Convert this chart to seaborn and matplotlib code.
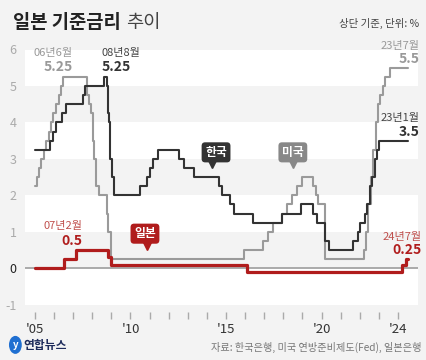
import pandas as pd
import matplotlib.pyplot as plt
import seaborn as sns
from matplotlib.patches import Ellipse

# policy rate changes (date, %), held until next change
kr_dates = ["2005-01-01", "2005-10-11", "2005-12-08", "2006-02-09", "2006-06-08", "2006-08-10",
            "2007-07-12", "2007-08-09", "2008-08-07", "2008-10-09", "2008-10-27", "2008-11-07",
            "2008-12-11", "2009-01-09", "2009-02-12", "2010-07-09", "2010-11-16", "2011-01-13",
            "2011-03-10", "2011-06-10", "2012-07-12", "2012-10-11", "2013-05-09", "2014-08-14",
            "2014-10-15", "2015-03-12", "2015-06-11", "2016-06-09", "2017-11-30", "2018-11-30",
            "2019-07-18", "2019-10-16", "2020-03-17", "2020-05-28", "2021-08-26", "2021-11-25",
            "2022-01-14", "2022-04-14", "2022-05-26", "2022-07-13", "2022-08-25", "2022-10-12",
            "2022-11-24", "2023-01-13", "2024-07-20"]
kr_rates = [3.25, 3.5, 3.75, 4.0, 4.25, 4.5,
            4.75, 5.0, 5.25, 5.0, 4.25, 4.0,
            3.0, 2.5, 2.0, 2.25, 2.5, 2.75,
            3.0, 3.25, 3.0, 2.75, 2.5, 2.25,
            2.0, 1.75, 1.5, 1.25, 1.5, 1.75,
            1.5, 1.25, 0.75, 0.5, 0.75, 1.0,
            1.25, 1.5, 1.75, 2.25, 2.5, 3.0,
            3.25, 3.5, 3.5]

us_dates = ["2005-01-01", "2005-02-02", "2005-03-22", "2005-05-03", "2005-06-30", "2005-08-09",
            "2005-09-20", "2005-11-01", "2005-12-13", "2006-01-31", "2006-03-28", "2006-05-10",
            "2006-06-29", "2007-09-18", "2007-10-31", "2007-12-11", "2008-01-22", "2008-01-30",
            "2008-03-18", "2008-04-30", "2008-10-08", "2008-10-29", "2008-12-16", "2015-12-16",
            "2016-12-14", "2017-03-15", "2017-06-14", "2017-12-13", "2018-03-21", "2018-06-13",
            "2018-09-26", "2018-12-19", "2019-07-31", "2019-09-18", "2019-10-30", "2020-03-03",
            "2020-03-15", "2022-03-16", "2022-05-04", "2022-06-15", "2022-07-27", "2022-09-21",
            "2022-11-02", "2022-12-14", "2023-02-01", "2023-03-22", "2023-05-03", "2023-07-26",
            "2024-07-20"]
us_rates = [2.25, 2.5, 2.75, 3.0, 3.25, 3.5,
            3.75, 4.0, 4.25, 4.5, 4.75, 5.0,
            5.25, 4.75, 4.5, 4.25, 3.5, 3.0,
            2.25, 2.0, 1.5, 1.0, 0.25, 0.5,
            0.75, 1.0, 1.25, 1.5, 1.75, 2.0,
            2.25, 2.5, 2.25, 2.0, 1.75, 1.25,
            0.25, 0.5, 1.0, 1.75, 2.5, 3.25,
            4.0, 4.5, 4.75, 5.0, 5.25, 5.5,
            5.5]

jp_dates = ["2005-01-01", "2006-07-14", "2007-02-21", "2008-10-31", "2008-12-19", "2016-02-16",
            "2024-03-19", "2024-06-10", "2024-07-20"]
jp_rates = [0.0, 0.25, 0.5, 0.3, 0.1, -0.1, 0.1, 0.25, 0.25]

year_ticks = list(range(2005, 2025))
year_labels = ["'05", "'10", "'15", "'20", "'24"]
label_years = [2005, 2010, 2015, 2020, 2024]


def to_year(dates):
    d = pd.to_datetime(pd.Series(dates))
    return d.dt.year + (d.dt.dayofyear - 1) / 365.25


kr = pd.DataFrame({"x": to_year(kr_dates), "y": kr_rates})
us = pd.DataFrame({"x": to_year(us_dates), "y": us_rates})
jp = pd.DataFrame({"x": to_year(jp_dates), "y": jp_rates})

BG = "#f3f3f3"
KR_C = "#333333"
US_C = "#9a9a9a"
JP_C = "#b01c1c"

sns.set_style("white")
plt.rcParams["font.family"] = ["Noto Sans CJK KR", "DejaVu Sans"]

fig = plt.figure(figsize=(4.27, 3.6), dpi=100, facecolor=BG)
ax = fig.add_axes([0.0585, 0.1331, 0.9204, 0.7294])
ax.set_facecolor(BG)

for lo in [5, 3, 1, -1]:
    ax.axhspan(lo, lo + 1, color="white", zorder=0, lw=0)
ax.axhline(0, color="#aaaaaa", lw=1.4, zorder=1)

sns.lineplot(data=us, x="x", y="y", ax=ax, color=US_C, lw=1.5, drawstyle="steps-post",
             estimator=None, zorder=3)
sns.lineplot(data=kr, x="x", y="y", ax=ax, color=KR_C, lw=1.5, drawstyle="steps-post",
             estimator=None, zorder=4)
sns.lineplot(data=jp, x="x", y="y", ax=ax, color=JP_C, lw=2.3, drawstyle="steps-post",
             estimator=None, zorder=5)

ax.set_xlim(2004.48, 2025.05)
ax.set_ylim(-1.2, 6)
ax.set_xlabel("")
ax.set_ylabel("")
for s in ax.spines.values():
    s.set_visible(False)

ax.set_xticks(year_ticks)
ax.set_xticklabels([year_labels[label_years.index(y)] if y in label_years else "" for y in year_ticks])
ax.tick_params(axis="x", direction="out", length=5, width=1, color="#aaaaaa",
               labelsize=9.5, labelcolor="#333333", pad=3, bottom=True)
ax.set_yticks(range(-1, 7))
ax.set_yticklabels([str(v) for v in range(-1, 7)])
ax.tick_params(axis="y", length=0, labelsize=9, pad=6)
for lab in ax.get_yticklabels():
    lab.set_color("#222222" if lab.get_text() == "0" else "#aaaaaa")

# value annotations
def note(x, y1, y2, top, val, color, ha, light_color=None):
    ax.text(x, y1, top, ha=ha, va="center", fontsize=8, color=light_color or color, clip_on=False)
    ax.text(x, y2, val, ha=ha, va="center", fontsize=10, fontweight="bold", color=color, clip_on=False)

note(2006.99, 5.90, 5.52, "06년6월", "5.25", "#999999", "right")
note(2008.50, 5.90, 5.52, "08년8월", "5.25", KR_C, "left", "#444444")
note(2025.13, 6.09, 5.74, "23년7월", "5.5", "#999999", "right")
note(2025.13, 4.12, 3.73, "23년1월", "3.5", KR_C, "right", "#444444")
note(2007.51, 1.16, 0.75, "07년2월", "0.5", JP_C, "right", "#c0504d")
note(2025.23, 0.86, 0.50, "24년7월", "0.25", JP_C, "right", "#c0504d")

# speech-bubble series labels
def bubble(x, y, px, py, text, color):
    ax.text(x, y, text, ha="center", va="center", fontsize=8.5, fontweight="bold", color="white",
            zorder=7, bbox=dict(boxstyle="round,pad=0.3,rounding_size=0.3", fc=color, ec="none"))
    ax.plot([px], [py], marker="v", ms=6, color=color, zorder=6, clip_on=False)

bubble(2014.48, 3.18, 2014.25, 2.86, "한국", KR_C)
bubble(2018.50, 3.18, 2018.50, 2.86, "미국", "#888888")
bubble(2010.76, 0.95, 2010.86, 0.62, "일본", JP_C)

# header and footer
fig.text(0.03, 0.938, "일본 기준금리", fontsize=13.5, fontweight="bold", color="#222222", va="center")
fig.text(0.295, 0.938, "추이", fontsize=13.5, color="#444444", va="center")
fig.text(0.982, 0.936, "상단 기준, 단위: %", fontsize=7.5, color="#444444", ha="right", va="center")
fig.text(0.988, 0.036, "자료: 한국은행, 미국 연방준비제도(Fed), 일본은행", fontsize=7.3,
         color="#777777", ha="right", va="center")
fig.patches.append(Ellipse((0.036, 0.042), 0.03, 0.05, transform=fig.transFigure,
                           fc="#1f6fd1", ec="none"))
fig.text(0.036, 0.042, "y", fontsize=7, color="white", fontstyle="italic", fontweight="bold",
         ha="center", va="center")
fig.text(0.055, 0.040, "연합뉴스", fontsize=8.5, fontweight="bold", color="#1e2c5c", va="center")

fig.savefig("out.png", dpi=100, facecolor=BG)
